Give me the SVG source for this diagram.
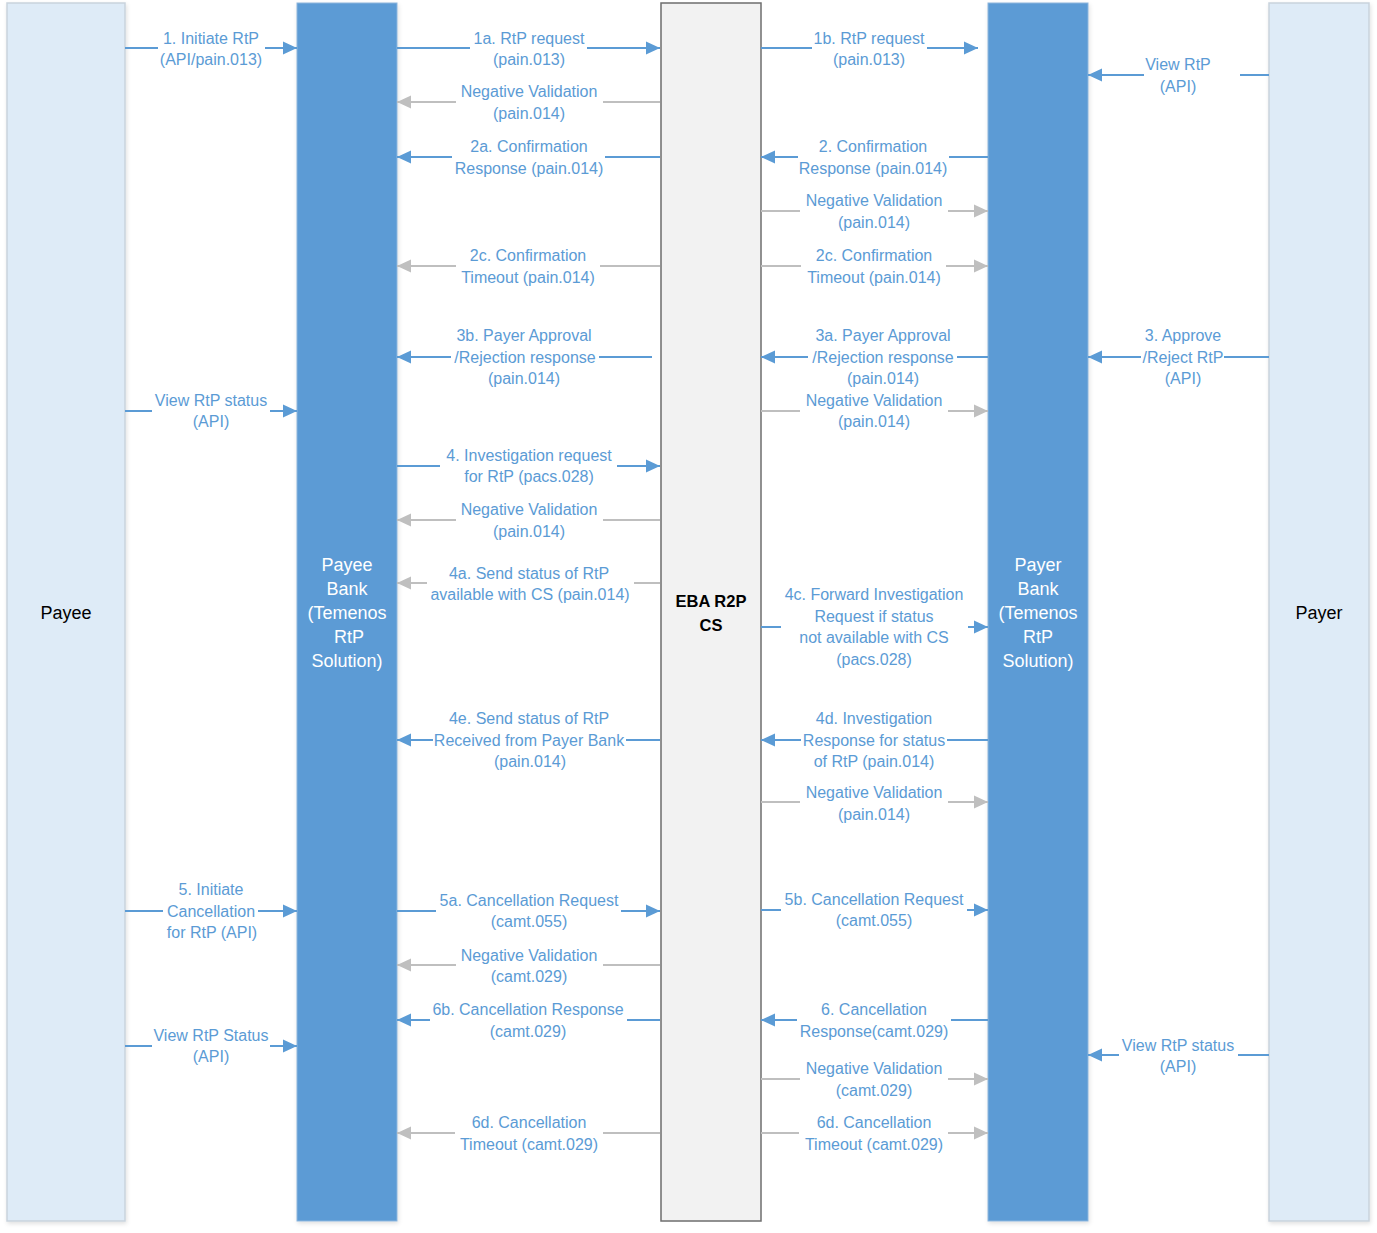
<svg xmlns="http://www.w3.org/2000/svg" width="1377" height="1233" viewBox="0 0 1377 1233">
<style>
.b{stroke:#5B9BD5;stroke-width:2;fill:none}
.g{stroke:#BFBFBF;stroke-width:2;fill:none}
.ab{marker-end:url(#mb)}
.ag{marker-end:url(#mg)}
.t{font-family:"Liberation Sans",Arial,sans-serif;font-size:16px;fill:#5B9BD5;text-anchor:middle}
.n{font-family:"Liberation Sans",Arial,sans-serif;font-size:18px;text-anchor:middle}
.nb{font-family:"Liberation Sans",Arial,sans-serif;font-size:16.5px;font-weight:bold;text-anchor:middle;fill:#000}
</style>
<defs>
<marker id="mb" markerUnits="userSpaceOnUse" markerWidth="14" markerHeight="14" refX="14" refY="7" orient="auto"><path d="M0,0.5 L14,7 L0,13.5 z" fill="#5B9BD5"/></marker>
<marker id="mg" markerUnits="userSpaceOnUse" markerWidth="14" markerHeight="14" refX="14" refY="7" orient="auto"><path d="M0,0.5 L14,7 L0,13.5 z" fill="#BFBFBF"/></marker>
<filter id="sh" x="-10%" y="-2%" width="120%" height="104%"><feDropShadow dx="1" dy="2" stdDeviation="2" flood-color="#000" flood-opacity="0.12"/></filter>
</defs>
<rect width="1377" height="1233" fill="#fff"/>

<g id="payee">
<rect x="7" y="3" width="118" height="1218" fill="#DEEBF7" stroke="#C9D3DD" stroke-width="1.5" filter="url(#sh)"/>
<text class="n" x="66" y="619" fill="#000">Payee</text>
</g>
<g id="payee-bank">
<rect x="297" y="3" width="100" height="1218" fill="#5B9BD5" stroke="#8DB5DC" stroke-width="1" filter="url(#sh)"/>
<text class="n" fill="#fff"><tspan x="347" y="571">Payee</tspan><tspan x="347" y="595">Bank</tspan><tspan x="347" y="619">(Temenos</tspan><tspan x="349" y="643">RtP</tspan><tspan x="347" y="667">Solution)</tspan></text>
</g>
<g id="eba">
<rect x="661" y="3" width="100" height="1218" fill="#F2F2F2" stroke="#6E6E6E" stroke-width="1.5"/>
<text class="nb"><tspan x="711" y="607">EBA R2P</tspan><tspan x="711" y="631">CS</tspan></text>
</g>
<g id="payer-bank">
<rect x="988" y="3" width="100" height="1218" fill="#5B9BD5" stroke="#8DB5DC" stroke-width="1" filter="url(#sh)"/>
<text class="n" fill="#fff"><tspan x="1038" y="571">Payer</tspan><tspan x="1038" y="595">Bank</tspan><tspan x="1038" y="619">(Temenos</tspan><tspan x="1038" y="643">RtP</tspan><tspan x="1038" y="667">Solution)</tspan></text>
</g>
<g id="payer">
<rect x="1269" y="3" width="100" height="1218" fill="#DEEBF7" stroke="#C9D3DD" stroke-width="1.5" filter="url(#sh)"/>
<text class="n" x="1319" y="619" fill="#000">Payer</text>
</g>

<g id="connectors">
<!-- Payee -> Payee Bank -->
<path class="b" d="M125,48 H158"/><path class="b ab" d="M265,48 H297"/>
<path class="b" d="M125,411 H152"/><path class="b ab" d="M270,411 H297"/>
<path class="b" d="M125,911 H163"/><path class="b ab" d="M258,911 H297"/>
<path class="b" d="M125,1046 H152"/><path class="b ab" d="M270,1046 H297"/>

<!-- Payee Bank <-> EBA -->
<path class="b" d="M397,48 H470"/><path class="b ab" d="M587,48 H660"/>
<path class="g" d="M660,102 H603"/><path class="g ag" d="M456,102 H397"/>
<path class="b" d="M660,157 H605"/><path class="b ab" d="M452,157 H397"/>
<path class="g" d="M660,266 H600"/><path class="g ag" d="M456,266 H397"/>
<path class="b" d="M652,357 H599"/><path class="b ab" d="M451,357 H397"/>
<path class="b" d="M397,466 H440"/><path class="b ab" d="M617,466 H660"/>
<path class="g" d="M660,520 H603"/><path class="g ag" d="M456,520 H397"/>
<path class="g" d="M660,583 H634"/><path class="g ag" d="M427,583 H397"/>
<path class="b" d="M660,740 H626"/><path class="b ab" d="M433,740 H397"/>
<path class="b" d="M397,911 H436"/><path class="b ab" d="M621,911 H660"/>
<path class="g" d="M660,965 H603"/><path class="g ag" d="M456,965 H397"/>
<path class="b" d="M660,1020 H627"/><path class="b ab" d="M430,1020 H397"/>
<path class="g" d="M660,1133 H603"/><path class="g ag" d="M455,1133 H397"/>

<!-- EBA <-> Payer Bank -->
<path class="b" d="M761,48 H812"/><path class="b ab" d="M927,48 H978"/>
<path class="b" d="M988,157 H949"/><path class="b ab" d="M798,157 H761"/>
<path class="g" d="M761,211 H800"/><path class="g ag" d="M948,211 H988"/>
<path class="g" d="M761,266 H801"/><path class="g ag" d="M946,266 H988"/>
<path class="b" d="M988,357 H957"/><path class="b ab" d="M808,357 H761"/>
<path class="g" d="M761,411 H800"/><path class="g ag" d="M948,411 H988"/>
<path class="b" d="M761,627 H781"/><path class="b ab" d="M968,627 H988"/>
<path class="b" d="M988,740 H947"/><path class="b ab" d="M801,740 H761"/>
<path class="g" d="M761,802 H800"/><path class="g ag" d="M948,802 H988"/>
<path class="b" d="M761,910 H781"/><path class="b ab" d="M967,910 H988"/>
<path class="b" d="M988,1020 H951"/><path class="b ab" d="M797,1020 H761"/>
<path class="g" d="M761,1079 H800"/><path class="g ag" d="M948,1079 H988"/>
<path class="g" d="M761,1133 H799"/><path class="g ag" d="M948,1133 H988"/>

<!-- Payer -> Payer Bank -->
<path class="b" d="M1269,75 H1240"/><path class="b ab" d="M1144,75 H1088"/>
<path class="b" d="M1269,357 H1224"/><path class="b ab" d="M1141,357 H1088"/>
<path class="b" d="M1269,1055 H1238"/><path class="b ab" d="M1119,1055 H1088"/>
</g>

<g id="labels">
<text class="t"><tspan x="211" y="44">1. Initiate RtP</tspan><tspan x="211" y="65">(API/pain.013)</tspan></text>
<text class="t"><tspan x="211" y="406">View RtP status</tspan><tspan x="211" y="427">(API)</tspan></text>
<text class="t"><tspan x="211" y="895">5. Initiate</tspan><tspan x="211" y="917">Cancellation</tspan><tspan x="212" y="938">for RtP (API)</tspan></text>
<text class="t"><tspan x="211" y="1041">View RtP Status</tspan><tspan x="211" y="1062">(API)</tspan></text>

<text class="t"><tspan x="529" y="44">1a. RtP request</tspan><tspan x="529" y="65">(pain.013)</tspan></text>
<text class="t"><tspan x="529" y="97">Negative Validation</tspan><tspan x="529" y="119">(pain.014)</tspan></text>
<text class="t"><tspan x="529" y="152">2a. Confirmation</tspan><tspan x="529" y="174">Response (pain.014)</tspan></text>
<text class="t"><tspan x="528" y="261">2c. Confirmation</tspan><tspan x="528" y="283">Timeout (pain.014)</tspan></text>
<text class="t"><tspan x="524" y="341">3b. Payer Approval</tspan><tspan x="525" y="363">/Rejection response</tspan><tspan x="524" y="384">(pain.014)</tspan></text>
<text class="t"><tspan x="529" y="461">4. Investigation request</tspan><tspan x="529" y="482">for RtP (pacs.028)</tspan></text>
<text class="t"><tspan x="529" y="515">Negative Validation</tspan><tspan x="529" y="537">(pain.014)</tspan></text>
<text class="t"><tspan x="529" y="579">4a. Send status of RtP</tspan><tspan x="530" y="600">available with CS (pain.014)</tspan></text>
<text class="t"><tspan x="529" y="724">4e. Send status of RtP</tspan><tspan x="529" y="746">Received from Payer Bank</tspan><tspan x="530" y="767">(pain.014)</tspan></text>
<text class="t"><tspan x="529" y="906">5a. Cancellation Request</tspan><tspan x="529" y="927">(camt.055)</tspan></text>
<text class="t"><tspan x="529" y="961">Negative Validation</tspan><tspan x="529" y="982">(camt.029)</tspan></text>
<text class="t"><tspan x="528" y="1015">6b. Cancellation Response</tspan><tspan x="528" y="1037">(camt.029)</tspan></text>
<text class="t"><tspan x="529" y="1128">6d. Cancellation</tspan><tspan x="529" y="1150">Timeout (camt.029)</tspan></text>

<text class="t"><tspan x="869" y="44">1b. RtP request</tspan><tspan x="869" y="65">(pain.013)</tspan></text>
<text class="t"><tspan x="873" y="152">2. Confirmation</tspan><tspan x="873" y="174">Response (pain.014)</tspan></text>
<text class="t"><tspan x="874" y="206">Negative Validation</tspan><tspan x="874" y="228">(pain.014)</tspan></text>
<text class="t"><tspan x="874" y="261">2c. Confirmation</tspan><tspan x="874" y="283">Timeout (pain.014)</tspan></text>
<text class="t"><tspan x="883" y="341">3a. Payer Approval</tspan><tspan x="883" y="363">/Rejection response</tspan><tspan x="883" y="384">(pain.014)</tspan></text>
<text class="t"><tspan x="874" y="406">Negative Validation</tspan><tspan x="874" y="427">(pain.014)</tspan></text>
<text class="t"><tspan x="874" y="600">4c. Forward Investigation</tspan><tspan x="874" y="622">Request if status</tspan><tspan x="874" y="643">not available with CS</tspan><tspan x="874" y="665">(pacs.028)</tspan></text>
<text class="t"><tspan x="874" y="724">4d. Investigation</tspan><tspan x="874" y="746">Response for status</tspan><tspan x="874" y="767">of RtP (pain.014)</tspan></text>
<text class="t"><tspan x="874" y="798">Negative Validation</tspan><tspan x="874" y="820">(pain.014)</tspan></text>
<text class="t"><tspan x="874" y="905">5b. Cancellation Request</tspan><tspan x="874" y="926">(camt.055)</tspan></text>
<text class="t"><tspan x="874" y="1015">6. Cancellation</tspan><tspan x="874" y="1037">Response(camt.029)</tspan></text>
<text class="t"><tspan x="874" y="1074">Negative Validation</tspan><tspan x="874" y="1096">(camt.029)</tspan></text>
<text class="t"><tspan x="874" y="1128">6d. Cancellation</tspan><tspan x="874" y="1150">Timeout (camt.029)</tspan></text>

<text class="t"><tspan x="1178" y="70">View RtP</tspan><tspan x="1178" y="92">(API)</tspan></text>
<text class="t"><tspan x="1183" y="341">3. Approve</tspan><tspan x="1183" y="363">/Reject RtP</tspan><tspan x="1183" y="384">(API)</tspan></text>
<text class="t"><tspan x="1178" y="1051">View RtP status</tspan><tspan x="1178" y="1072">(API)</tspan></text>
</g>
</svg>
